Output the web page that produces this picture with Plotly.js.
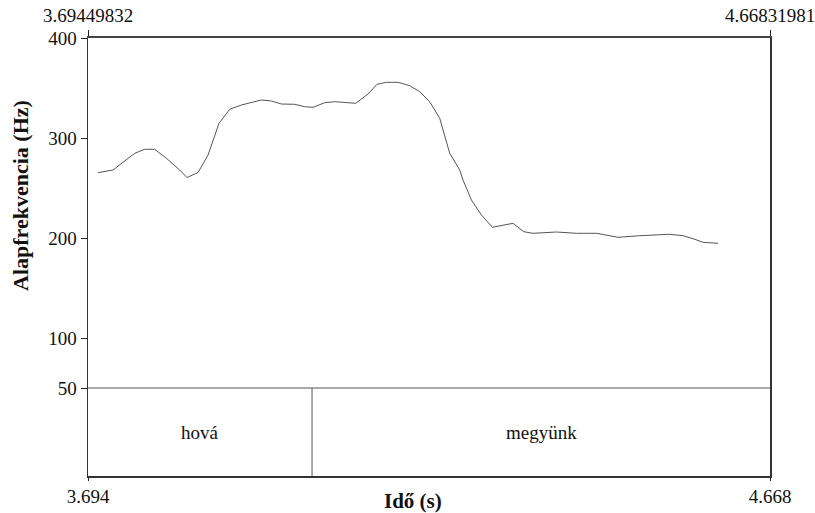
<!DOCTYPE html>
<html>
<head>
<meta charset="utf-8">
<script src="https://cdn.plot.ly/plotly-3.0.1.min.js"></script>
<style>html,body{margin:0;padding:0;background:#fff;}#chart{width:815px;height:513px;}</style>
</head>
<body>
<div id="chart"></div>
<script>
// Time window (s)
const tStart = 3.69449832;
const tEnd = 4.66831981;
const startLabelShort = '3.694';
const endLabelShort = '4.668';
const startLabelFull = '3.69449832';
const endLabelFull = '4.66831981';

// Pitch contour: time (s) and F0 (Hz)
const pitchTime = [3.7088, 3.7302, 3.7612, 3.7755, 3.7897, 3.8065, 3.8254, 3.8359, 3.8516, 3.8659,
  3.8816, 3.8968, 3.9135, 3.9421, 3.9564, 3.9707, 3.9897, 4.0039, 4.0158, 4.0325,
  4.0468, 4.0768, 4.0943, 4.1072, 4.1206, 4.1372, 4.1539, 4.1682, 4.1824, 4.1967,
  4.2110, 4.2253, 4.2300, 4.2420, 4.2563, 4.2720, 4.3014, 4.3167, 4.3299, 4.3634,
  4.3919, 4.4205, 4.4513, 4.4823, 4.5251, 4.5441, 4.5584, 4.5727, 4.5941];
const pitchHz = [265.3, 268, 284.7, 288.7, 288.7, 279.7, 268, 260.5, 265.5, 283,
  314.7, 328.7, 333, 338, 337, 334, 333.7, 331.3, 330.7, 335.3,
  336.3, 334.7, 344, 353.7, 355.7, 355.7, 352.3, 346.3, 336.3, 319.7,
  284.7, 268, 258, 238, 223, 210.7, 214.7, 206.3, 204.7, 206,
  204.7, 204.7, 200.7, 202.3, 203.7, 202.3, 199.3, 195.7, 194.7];

// Y axis
const yTicks = [50, 100, 200, 300, 400];
const yMin = -38, yMax = 400, tierTop = 50;

// Text grid tier
const tierBounds = [3.69449832, 4.0144, 4.66831981];
const tierLabels = ['hová', 'megyünk'];

const yTitle = 'Alapfrekvencia (Hz)';
const xTitle = 'Idő (s)';

const FONT = '"Liberation Serif", "DejaVu Serif", serif';

const traces = [
  {x: pitchTime, y: pitchHz, type: 'scatter', mode: 'lines',
   line: {color: '#555', width: 1}, hoverinfo: 'skip', xaxis: 'x', yaxis: 'y'},
  {x: [tStart, tEnd], y: [yMax, yMax], type: 'scatter', mode: 'lines',
   line: {color: 'rgba(0,0,0,0)', width: 0}, hoverinfo: 'skip', xaxis: 'x2', yaxis: 'y'}
];

const shapes = [
  {type: 'line', xref: 'paper', x0: 0, x1: 1, yref: 'y', y0: tierTop, y1: tierTop,
   line: {color: '#555', width: 1}}
];
for (let i = 1; i < tierBounds.length - 1; i++) {
  shapes.push({type: 'line', xref: 'x', x0: tierBounds[i], x1: tierBounds[i], yref: 'y',
    y0: yMin, y1: tierTop, line: {color: '#555', width: 1}});
}

const annotations = [];
for (let i = 0; i < tierLabels.length; i++) {
  annotations.push({x: (tierBounds[i] + tierBounds[i + 1]) / 2, y: (tierTop + yMin) / 2,
    xref: 'x', yref: 'y', text: tierLabels[i], showarrow: false,
    font: {family: FONT, size: 19, color: '#111'}, xanchor: 'center', yanchor: 'middle'});
}
annotations.push({x: 0, xref: 'paper', xshift: -68, y: 242, yref: 'y', text: '<b>' + yTitle + '</b>',
  textangle: -90, showarrow: false, font: {family: FONT, size: 22, color: '#111'},
  xanchor: 'center', yanchor: 'middle'});
annotations.push({x: 4.1582, xref: 'x', y: 0, yref: 'paper', yshift: -25, text: '<b>' + xTitle + '</b>',
  showarrow: false, font: {family: FONT, size: 21, color: '#111'},
  xanchor: 'center', yanchor: 'middle'});

const layout = {
  width: 815, height: 513,
  margin: {l: 88, r: 45, t: 38, b: 37, pad: 0},
  paper_bgcolor: '#fff', plot_bgcolor: '#fff',
  showlegend: false,
  font: {family: FONT, size: 19, color: '#111'},
  xaxis: {range: [tStart, tEnd], tickvals: [tStart, tEnd], ticktext: [startLabelShort, endLabelShort],
    ticks: 'outside', ticklen: 3, tickwidth: 1, tickcolor: '#222',
    showline: true, linecolor: '#333', linewidth: 1.5, mirror: false,
    showgrid: false, zeroline: false, fixedrange: true, ticklabeloverflow: 'allow',
    tickfont: {family: FONT, size: 19, color: '#111'}},
  xaxis2: {range: [tStart, tEnd], overlaying: 'x', side: 'top', anchor: 'y',
    tickvals: [tStart, tEnd], ticktext: [startLabelFull, endLabelFull],
    ticks: 'outside', ticklen: 6, tickwidth: 1, tickcolor: '#222',
    showline: true, linecolor: '#444', linewidth: 2,
    showgrid: false, zeroline: false, fixedrange: true, ticklabeloverflow: 'allow',
    tickfont: {family: FONT, size: 19, color: '#111'}},
  yaxis: {range: [yMin, yMax], tickvals: yTicks, ticktext: yTicks.map(String),
    ticks: 'outside', ticklen: 6, tickwidth: 1, tickcolor: '#222',
    showline: true, linecolor: '#333', linewidth: 1.5, mirror: true,
    showgrid: false, zeroline: false, fixedrange: true,
    tickfont: {family: FONT, size: 19, color: '#111'}},
  shapes: shapes,
  annotations: annotations
};

Plotly.newPlot('chart', traces, layout, {displayModeBar: false, staticPlot: true});
</script>
</body>
</html>
